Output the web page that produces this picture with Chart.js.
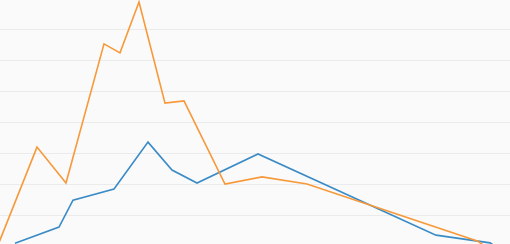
<!DOCTYPE html>
<html>
<head>
<meta charset="utf-8">
<script src="https://cdn.jsdelivr.net/npm/chart.js@4"></script>
<style>
  html, body { margin: 0; padding: 0; background: #fafafa; }
  #wrap { width: 510px; height: 244px; position: relative; }
</style>
</head>
<body>
<div id="wrap"><canvas id="chart"></canvas></div>
<script>
// values
const orangeX = [-0.2, 3.7, 6.6, 10.4, 12.0, 13.9, 16.5, 18.4, 22.5, 26.2, 30.7, 47.8, 52.0];
const orangeY = [10.4, 42.0, 30.4, 75.3, 72.4, 88.8, 56.2, 56.9, 30.1, 32.4, 30.1, 11.6, 2.0];

const blueX = [1.5, 5.9, 7.3, 11.4, 14.8, 17.2, 19.7, 25.8, 43.6, 49.0, 52.0];
const blueY = [11.0, 16.2, 24.9, 28.5, 43.6, 34.6, 30.4, 39.8, 13.6, 11.1, 5.0];

const yTicks = [20, 30, 40, 50, 60, 70, 80];

function toPoints(xs, ys) {
  return xs.map((x, i) => ({ x: x, y: ys[i] }));
}

const canvas = document.getElementById("chart");

new Chart(canvas, {
  type: "line",
  data: {
    datasets: [
      {
        label: "orange",
        data: toPoints(orangeX, orangeY),
        borderColor: "#f7993a",
        borderWidth: 1.6,
        pointRadius: 0,
        tension: 0,
        fill: false
      },
      {
        label: "blue",
        data: toPoints(blueX, blueY),
        borderColor: "#3b8bc6",
        borderWidth: 1.6,
        pointRadius: 0,
        tension: 0,
        fill: false
      }
    ]
  },
  options: {
    responsive: true,
    maintainAspectRatio: false,
    animation: false,
    layout: { padding: 0 },
    scales: {
      x: {
        type: "linear",
        display: false,
        min: 0,
        max: 51
      },
      y: {
        min: 10.74,
        max: 89.45,
        afterBuildTicks: scale => {
          scale.ticks = yTicks.map(v => ({ value: v }));
        },
        ticks: { display: false },
        border: { display: false },
        grid: {
          color: "#ebebeb",
          lineWidth: 1,
          drawTicks: false
        }
      }
    },
    plugins: {
      legend: { display: false },
      tooltip: { enabled: false }
    }
  }
});
</script>
</body>
</html>
